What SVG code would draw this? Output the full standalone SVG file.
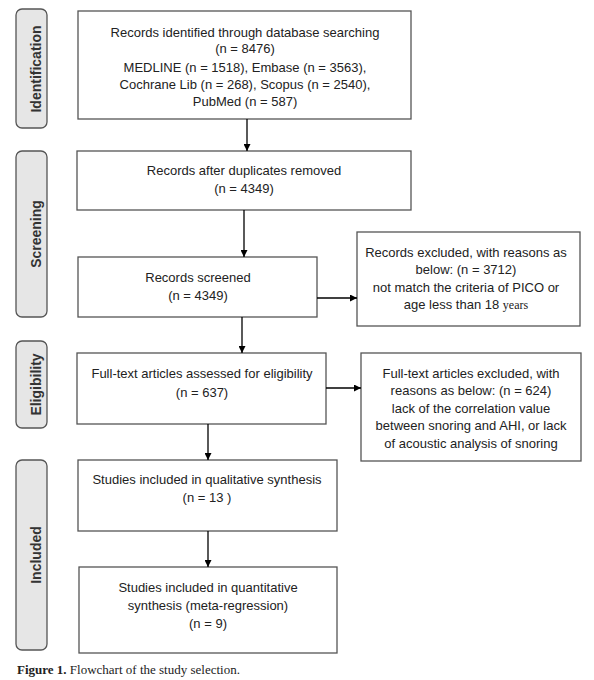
<svg xmlns="http://www.w3.org/2000/svg" width="594" height="680" viewBox="0 0 594 680">
<defs>
<marker id="ah" viewBox="0 0 10 10" refX="10" refY="5" markerWidth="7" markerHeight="7" markerUnits="userSpaceOnUse" orient="auto">
<path d="M0,0 L10,5 L0,10 z" fill="#000"/>
</marker>
<style>
.box{fill:#fff;stroke:#555;stroke-width:1.3}
.lab{fill:#e6e6e6;stroke:#555;stroke-width:1.3}
.t{font-family:"Liberation Sans",Arial,sans-serif;font-size:13px;fill:#222;text-anchor:middle}
.lt{font-family:"Liberation Sans",Arial,sans-serif;font-size:14px;font-weight:bold;fill:#333;text-anchor:middle}
.c{stroke:#000;stroke-width:1.3;fill:none;marker-end:url(#ah)}
.cap{font-family:"Liberation Serif","Times New Roman",serif;font-size:13px;fill:#222}
</style>
</defs>
<rect width="594" height="680" fill="#fff"/>

<g id="label-identification">
<rect class="lab" x="16" y="9" width="31" height="119" rx="6"/>
<text class="lt" transform="translate(41,69) rotate(-90)">Identification</text>
</g>
<g id="label-screening">
<rect class="lab" x="16" y="151" width="31" height="166" rx="6"/>
<text class="lt" transform="translate(41,234) rotate(-90)">Screening</text>
</g>
<g id="label-eligibility">
<rect class="lab" x="16" y="341" width="31" height="87" rx="6"/>
<text class="lt" transform="translate(41,384.5) rotate(-90)">Eligibility</text>
</g>
<g id="label-included">
<rect class="lab" x="16" y="460" width="31" height="190" rx="6"/>
<text class="lt" transform="translate(41,555) rotate(-90)">Included</text>
</g>

<g id="n-identified">
<rect class="box" x="78" y="11" width="333" height="108"/>
<text class="t" x="245" y="36.5">Records identified through database searching</text>
<text class="t" x="245" y="53">(n = 8476)</text>
<text class="t" x="245" y="71.5">MEDLINE (n = 1518), Embase (n = 3563),</text>
<text class="t" x="245" y="89">Cochrane Lib (n = 268), Scopus (n = 2540),</text>
<text class="t" x="245" y="106">PubMed (n = 587)</text>
</g>
<g id="n-duplicates">
<rect class="box" x="77" y="151" width="334" height="59"/>
<text class="t" x="244" y="174.5">Records after duplicates removed</text>
<text class="t" x="244" y="192.5">(n = 4349)</text>
</g>
<g id="n-screened">
<rect class="box" x="78" y="257" width="239" height="60"/>
<text class="t" x="198" y="281.5">Records screened</text>
<text class="t" x="198" y="299.5">(n = 4349)</text>
</g>
<g id="n-excluded1">
<rect class="box" x="357" y="232" width="223" height="94"/>
<text class="t" x="466" y="256.5">Records excluded, with reasons as</text>
<text class="t" x="466" y="274">below: (n = 3712)</text>
<text class="t" x="466" y="291.5">not match the criteria of PICO or</text>
<text class="t" x="466" y="309">age less than 18 <tspan style="font-family:'Liberation Serif','Times New Roman',serif;font-size:12px">years</tspan></text>
</g>
<g id="n-fulltext">
<rect class="box" x="77" y="353" width="249" height="71"/>
<text class="t" x="202" y="377.5">Full-text articles assessed for eligibility</text>
<text class="t" x="202" y="396.5">(n = 637)</text>
</g>
<g id="n-excluded2">
<rect class="box" x="361" y="353" width="220" height="108"/>
<text class="t" x="471" y="377.5">Full-text articles excluded, with</text>
<text class="t" x="471" y="395">reasons as below: (n = 624)</text>
<text class="t" x="471" y="412.5">lack of the correlation value</text>
<text class="t" x="471" y="430">between snoring and AHI, or lack</text>
<text class="t" x="471" y="447.5">of acoustic analysis of snoring</text>
</g>
<g id="n-qualitative">
<rect class="box" x="78" y="460" width="259" height="71"/>
<text class="t" x="207" y="483.5">Studies included in qualitative synthesis</text>
<text class="t" x="207" y="501.5">(n = 13 )</text>
</g>
<g id="n-quantitative">
<rect class="box" x="79" y="567" width="258" height="86"/>
<text class="t" x="208" y="591.5">Studies included in quantitative</text>
<text class="t" x="208" y="609.5">synthesis (meta-regression)</text>
<text class="t" x="208" y="627.5">(n = 9)</text>
</g>

<g id="connectors">
<line class="c" x1="247" y1="119" x2="247" y2="151"/>
<line class="c" x1="244" y1="210" x2="244" y2="257"/>
<line class="c" x1="317" y1="298" x2="357" y2="298"/>
<line class="c" x1="242" y1="317" x2="242" y2="353"/>
<line class="c" x1="326" y1="388" x2="361" y2="388"/>
<line class="c" x1="208" y1="424" x2="208" y2="460"/>
<line class="c" x1="208" y1="531" x2="208" y2="567"/>
</g>

<text class="cap" x="17" y="674"><tspan font-weight="bold">Figure 1.</tspan> Flowchart of  the study selection.</text>
</svg>
